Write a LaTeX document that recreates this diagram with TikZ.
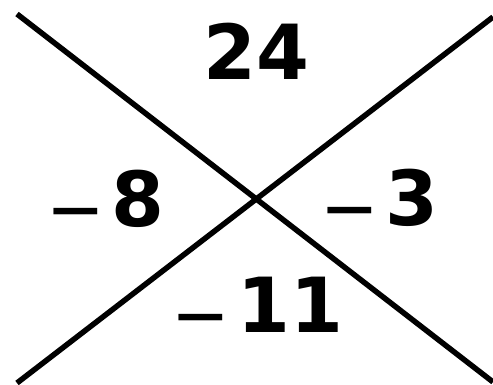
\documentclass[tikz,border=0pt]{standalone}
\usepackage{fontspec}
\setmainfont{Liberation Sans}
\newfontfamily\digitfont{DejaVu Sans}
\newcommand{\minussign}{\raisebox{-15pt}{\fontsize{90}{90}\selectfont\rmfamily\mdseries −}\hspace{10pt}}
\begin{document}
\begin{tikzpicture}[x=1pt, y=-1pt]
\tikzset{num/.style={inner sep=0pt, font=\fontsize{76}{76}\digitfont\bfseries}}
\useasboundingbox (0,0) rectangle (493,385);
\coordinate (tl) at (17,14);
\coordinate (br) at (493,382);
\coordinate (bl) at (17,383);
\coordinate (tr) at (493,17);

\draw[line width=5.5pt] (tl) -- (br);
\draw[line width=5.5pt] (bl) -- (tr);

\node[num] (top) at (256,51) {24};
\node[num] (left) at (107,206) {\minussign 8};
\node[num] (right) at (381,205) {\minussign 3};
\node[num] (bottom) at (259,312) {\minussign 11};
\end{tikzpicture}
\end{document}
